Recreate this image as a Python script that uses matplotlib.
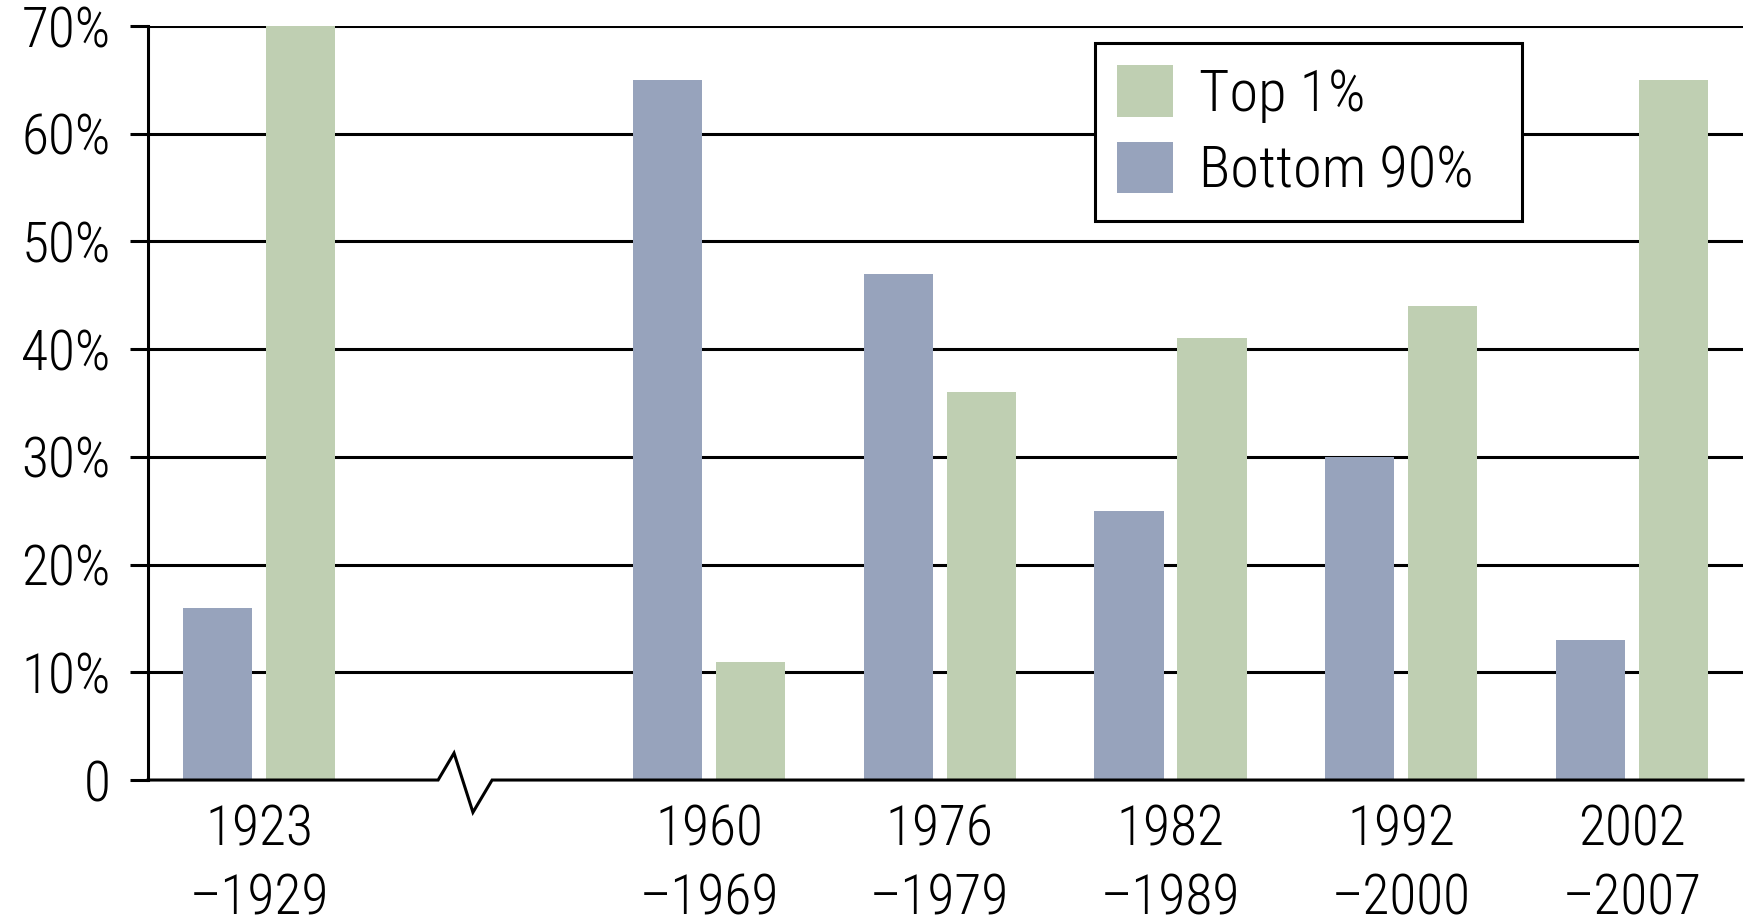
import numpy as np
import matplotlib
matplotlib.use("Agg")
import matplotlib.pyplot as plt
from matplotlib import font_manager

# ---------- Data ----------
periods = ['1923\n\u20131929', '1960\n\u20131969', '1976\n\u20131979',
           '1982\n\u20131989', '1992\n\u20132000', '2002\n\u20132007']
bottom90 = [16, 65, 47, 25, 30, 13]
top1 = [70, 11, 36, 41, 44, 65]
yticks = [0, 10, 20, 30, 40, 50, 60, 70]
ytick_labels = ['0', '10%', '20%', '30%', '40%', '50%', '60%', '70%']

# ---------- Font: want a condensed sans ----------
fonts = [(f.name, f.stretch) for f in font_manager.fontManager.ttflist]
names = set(n for n, s in fonts)
stretch = 'normal'
if 'Liberation Sans Narrow' in names:
    family = 'Liberation Sans Narrow'
elif 'Roboto Condensed' in names:
    family = 'Roboto Condensed'
elif ('DejaVu Sans', 'condensed') in fonts or ('DejaVu Sans', 'semi-condensed') in fonts:
    family = 'DejaVu Sans'
    stretch = 'condensed'
else:
    family = 'Roboto'
plt.rcParams['font.family'] = [family, 'DejaVu Sans']
plt.rcParams['font.stretch'] = stretch
plt.rcParams['font.weight'] = 'light'

blue = '#97a3bc'
green = '#bfcfb2'
lw = 2.2
fs = 40 if family != 'Roboto' else 37

# group positions (gap after the first group for the axis break)
xpos = np.array([0.05, 2, 3, 4, 5, 6])
width = 0.3
off = 0.18
xmin, xmax = -0.431, 6.481

fig = plt.figure(figsize=(17.5, 9.23), dpi=100)
ax = fig.add_axes([0.0846, 0.1549, 0.996 - 0.0846, 0.9718 - 0.1549])

ax.bar(xpos - off, bottom90, width, color=blue, label='Bottom 90%', zorder=3)
ax.bar(xpos + off, top1, width, color=green, label='Top 1%', zorder=3)

# gridlines (not at zero, the baseline has the break mark)
ax.hlines(yticks[1:], xmin, xmax, colors='black', linewidth=lw, zorder=1)

# baseline with zigzag break
bx = [xmin, 0.826, 0.895, 0.977, 1.06, xmax]
by = [0, 0, 2.5, -3.0, 0, 0]
ax.plot(bx, by, color='black', linewidth=lw, clip_on=False, zorder=4,
        solid_joinstyle='miter')

ax.set_xlim(xmin, xmax)
ax.set_ylim(0, 70)
for s in ['top', 'right', 'bottom']:
    ax.spines[s].set_visible(False)
ax.spines['left'].set_linewidth(lw)
ax.spines['left'].set_zorder(4)

ax.set_yticks(yticks)
ax.set_yticklabels(ytick_labels)
ax.tick_params(axis='y', direction='out', length=13, width=lw, pad=14,
               labelsize=fs)
ax.set_xticks(xpos)
ax.set_xticklabels(periods, linespacing=1.38)
ax.tick_params(axis='x', length=0, pad=17, labelsize=fs)

# ---------- Legend ----------
handles, labels = ax.get_legend_handles_labels()
leg = ax.legend(handles[::-1], labels[::-1], loc='upper left', mode='expand',
                bbox_to_anchor=(1095 / 1750, 1 - 222 / 923,
                                (1522 - 1095) / 1750, (222 - 43) / 923),
                bbox_transform=fig.transFigure,
                fontsize=fs + 2, frameon=True, fancybox=False,
                edgecolor='black', framealpha=1,
                handlelength=0.95, handleheight=0.98, handletextpad=0.45,
                borderpad=0.38, labelspacing=0.32, borderaxespad=0)
leg.get_frame().set_linewidth(lw)
leg.set_zorder(5)

plt.savefig('out.png', dpi=100)
